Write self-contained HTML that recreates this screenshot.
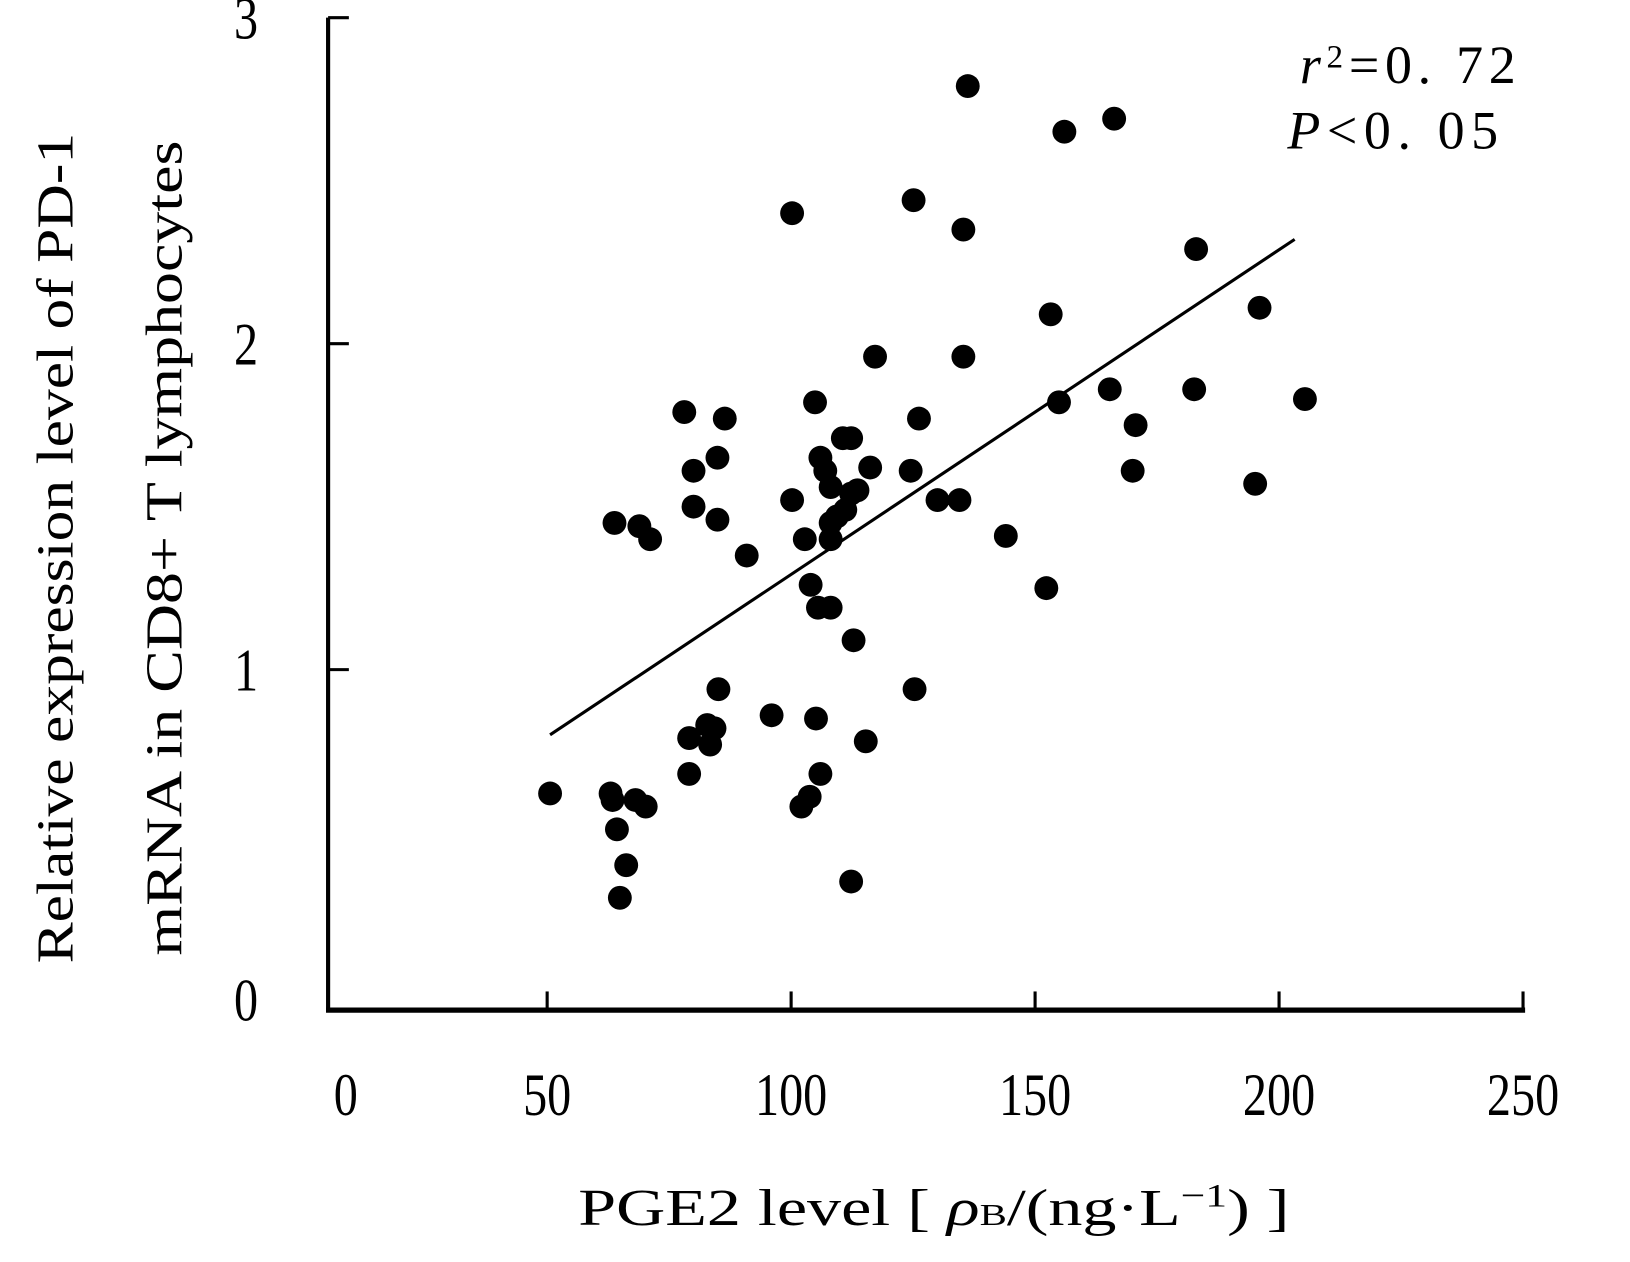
<!DOCTYPE html>
<html><head><meta charset="utf-8"><style>html,body{margin:0;padding:0;background:#fff}svg{display:block}text{font-family:"Liberation Serif",serif;fill:#000}</style></head>
<body>
<svg id="chart" width="1630" height="1262" viewBox="0 0 1570 1215.6" xmlns="http://www.w3.org/2000/svg">
<g id="axes"></g>
<g id="dots"></g>
<g id="trend"></g>
<text transform="translate(70,528) rotate(-90)" text-anchor="middle" font-size="50" textLength="800" lengthAdjust="spacingAndGlyphs">Relative expression level of PD-1</text>
<text transform="translate(175,528) rotate(-90)" text-anchor="middle" font-size="50" textLength="785" lengthAdjust="spacingAndGlyphs">mRNA in CD8+ T lymphocytes</text>
<text x="557" y="1180" font-size="50" textLength="685" lengthAdjust="spacingAndGlyphs">PGE2 level [ <tspan font-style="italic">ρ</tspan><tspan font-size="30">B</tspan>/(ng·L<tspan font-size="32" dy="-18">−1</tspan><tspan dy="18">) ]</tspan></text>
<text x="1252" y="80" font-size="52" textLength="208" lengthAdjust="spacing"><tspan font-style="italic">r</tspan><tspan font-size="32" dy="-15">2</tspan><tspan dy="15">=0. 72</tspan></text>
<text x="1240" y="143" font-size="52" textLength="203" lengthAdjust="spacing"><tspan font-style="italic">P</tspan>&lt;0. 05</text>
</svg>
<script>
const xVals=[50.6,63.0,63.4,64.3,66.2,64.9,68.1,70.2,63.8,68.9,71.1,78.1,80.0,80.0,84.9,86.4,84.9,90.9,79.1,79.1,82.8,83.4,84.3,85.1,96.0,100.2,100.2,102.8,102.1,103.8,104.9,105.1,106.0,104.0,105.5,108.1,106.0,107.0,108.1,109.4,108.1,110.6,112.3,111.1,112.3,113.6,112.8,116.2,115.3,117.2,112.3,125.1,124.5,126.2,125.3,130.0,134.5,135.3,135.3,136.2,144.0,152.3,153.2,154.9,156.0,165.3,166.2,170.6,170.0,182.6,183.0,195.1,196.0,205.3,108.1];
const yVals=[0.62,0.62,0.60,0.51,0.40,0.30,0.60,0.58,1.45,1.44,1.40,1.79,1.61,1.50,1.65,1.77,1.46,1.35,0.79,0.68,0.83,0.77,0.82,0.94,0.86,2.40,1.52,1.40,0.58,0.61,1.82,0.85,0.68,1.26,1.19,1.19,1.65,1.61,1.56,1.47,1.45,1.71,1.71,1.49,1.54,1.55,1.09,1.62,0.78,1.96,0.35,2.44,1.61,1.77,0.94,1.52,1.52,2.35,1.96,2.79,1.41,1.25,2.09,1.82,2.65,1.86,2.69,1.75,1.61,1.86,2.29,1.57,2.11,1.83,1.40];
const xTicks=[0,50,100,150,200,250];
const yTicks=[0,1,2,3];
const trendX=[50.6,203.2];
const trendSlope=0.00996;
const trendIntercept=0.296;
const NS="http://www.w3.org/2000/svg";
const sx=v=>292+v*4.7;
const sy=v=>959-v*314;
function mk(tag,attrs,parent){const e=document.createElementNS(NS,tag);for(const k in attrs)e.setAttribute(k,attrs[k]);parent.appendChild(e);return e;}
const axes=document.getElementById('axes');
let l=mk('line',{x1:316,y1:17,x2:316,y2:975,stroke:'#000','stroke-width':4},axes);


l=mk('line',{x1:314,y1:973,x2:1469,y2:973,stroke:'#000','stroke-width':5},axes);


yTicks.forEach(t=>{
  if(t>0){const tk=mk('line',{x1:316,y1:sy(t),x2:336,y2:sy(t),stroke:'#000','stroke-width':3},axes);
  
  }
  const tx=mk('text',{'font-size':58,'text-anchor':'middle',transform:`translate(237,${sy(t)+(t===0?24:20)}) scale(0.8,1)`},axes);
  tx.textContent=t;
  
  
});
xTicks.forEach(t=>{
  const px=t===0?316:sx(t);
  if(t>0){const tk=mk('line',{x1:px,y1:955,x2:px,y2:973,stroke:'#000','stroke-width':3},axes);
  
  }
  const tx=mk('text',{'font-size':58,'text-anchor':'middle',transform:`translate(${t===0?333:sx(t)},1074) scale(0.8,1)`},axes);
  tx.textContent=t;
  
  
});
const dots=document.getElementById('dots');
xVals.forEach((x,i)=>{
  const c=mk('circle',{cx:sx(x),cy:sy(yVals[i]),r:11.5,fill:'#000'},dots);
  
  
});
const tr=document.getElementById('trend');
const tl=mk('line',{x1:sx(trendX[0]),y1:sy(trendIntercept+trendSlope*trendX[0]),x2:sx(trendX[1]),y2:sy(trendIntercept+trendSlope*trendX[1]),stroke:'#000','stroke-width':3},tr);


</script>
</body></html>
